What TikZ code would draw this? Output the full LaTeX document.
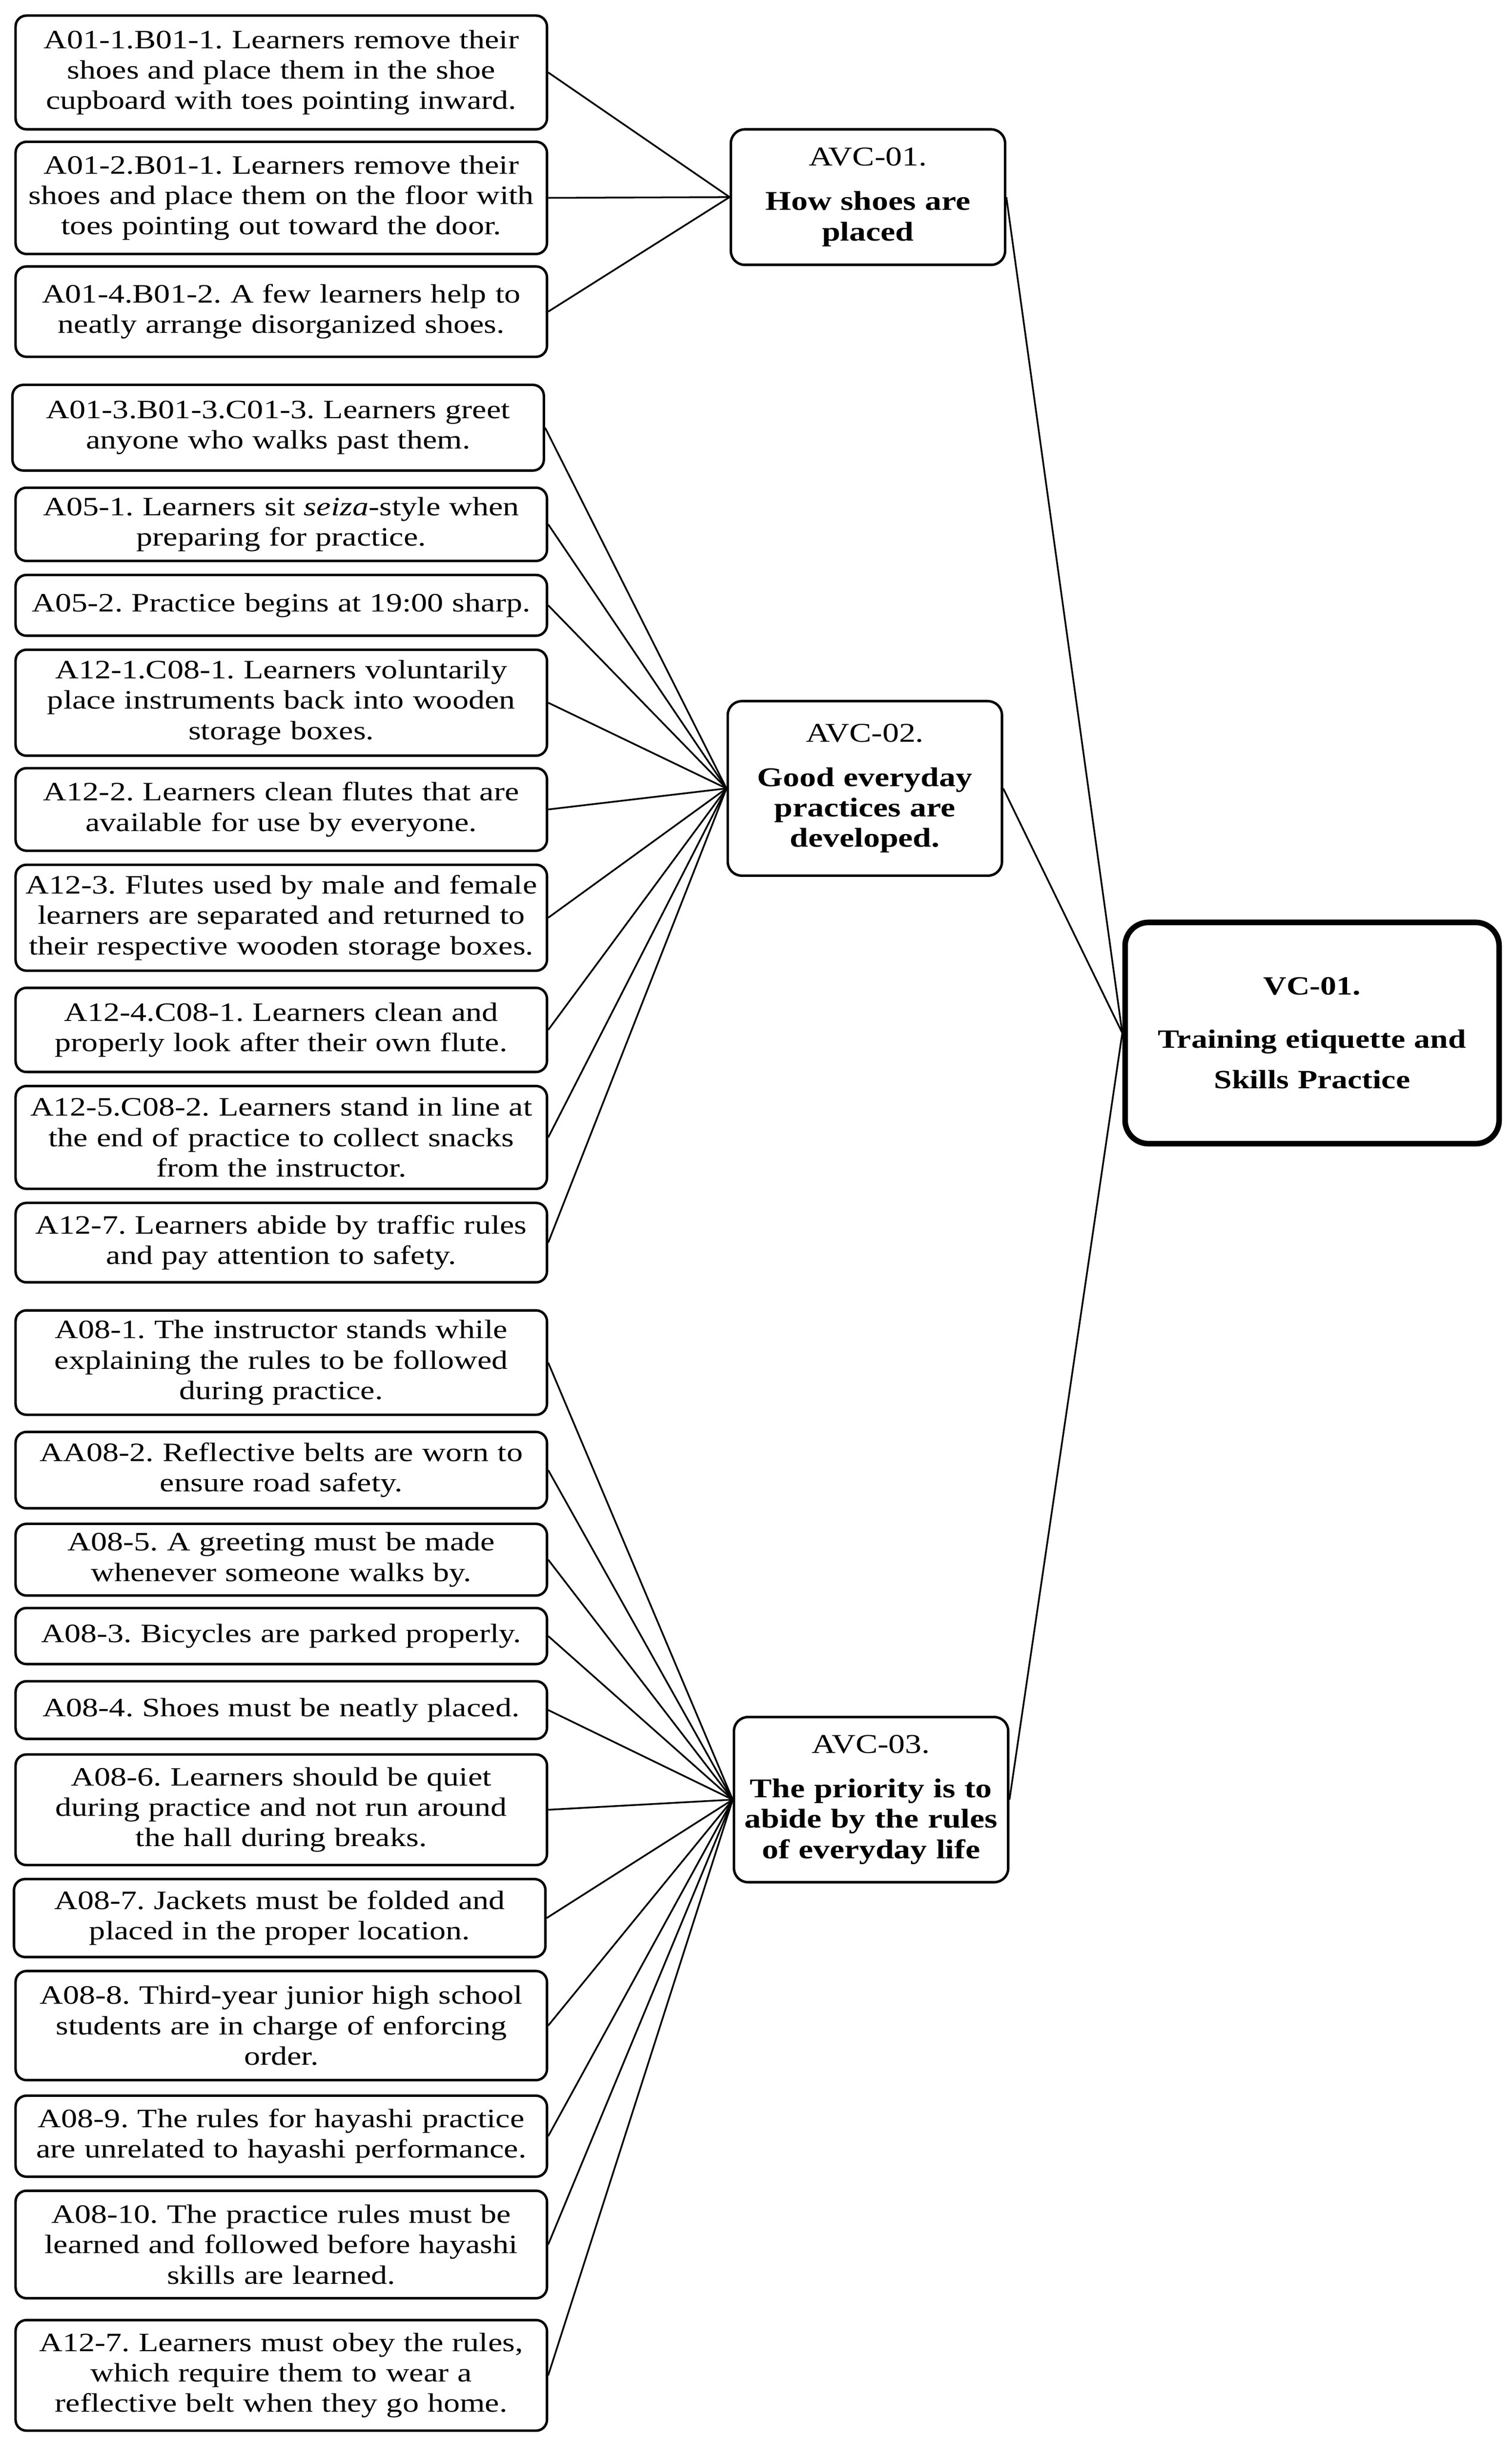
\documentclass[tikz,border=0pt]{standalone}
\usepackage{fontspec}
\setmainfont{Liberation Serif}[FakeStretch=1.22]
\frenchspacing
\begin{document}
\begin{tikzpicture}[x=1pt,y=1pt,
  item/.style={draw,line width=1.6pt,rounded corners=7pt,align=center,text width=341pt,inner xsep=0pt,inner ysep=1pt,font=\fontsize{17}{19.5}\selectfont},
  theme/.style={draw,line width=1.6pt,rounded corners=9pt,align=center,text width=170pt,inner xsep=3pt,inner ysep=1pt,font=\fontsize{17.4}{19.5}\selectfont},
  core/.style={draw,line width=3.6pt,rounded corners=15pt,align=center,text width=230pt,inner xsep=5pt,font=\bfseries\fontsize{16.9}{26}\selectfont},
  link/.style={line width=1.1pt}]
  \useasboundingbox (0,0) rectangle (970,-1566);
  % left column: observed actions
  \node[item,minimum height=73pt] (a1) at (180.5,-46.5) {A01-1.B01-1. Learners remove their\\shoes and place them in the shoe\\cupboard with toes pointing inward.};
  \node[item,minimum height=72pt] (a2) at (180.5,-127) {A01-2.B01-1. Learners remove their\\shoes and place them on the floor with\\toes pointing out toward the door.};
  \node[item,minimum height=58pt] (a3) at (180.5,-200) {A01-4.B01-2. A few learners help to\\neatly arrange disorganized shoes.};
  \node[item,minimum height=55pt] (a4) at (178.5,-274.5) {A01-3.B01-3.C01-3. Learners greet\\anyone who walks past them.};
  \node[item,minimum height=47pt] (a5) at (180.5,-336.5) {A05-1. Learners sit \textit{seiza}-style when\\preparing for practice.};
  \node[item,minimum height=39pt] (a6) at (180.5,-388.5) {A05-2. Practice begins at 19:00 sharp.};
  \node[item,minimum height=68pt] (a7) at (180.5,-451) {A12-1.C08-1. Learners voluntarily\\place instruments back into wooden\\storage boxes.};
  \node[item,minimum height=53pt] (a8) at (180.5,-519.5) {A12-2. Learners clean flutes that are\\available for use by everyone.};
  \node[item,minimum height=68pt] (a9) at (180.5,-589) {A12-3. Flutes used by male and female\\learners are separated and returned to\\their respective wooden storage boxes.};
  \node[item,minimum height=54pt] (a10) at (180.5,-661) {A12-4.C08-1. Learners clean and\\properly look after their own flute.};
  \node[item,minimum height=66pt] (a11) at (180.5,-730) {A12-5.C08-2. Learners stand in line at\\the end of practice to collect snacks\\from the instructor.};
  \node[item,minimum height=51pt] (a12) at (180.5,-797.5) {A12-7. Learners abide by traffic rules\\and pay attention to safety.};
  \node[item,minimum height=67pt] (a13) at (180.5,-874.5) {A08-1. The instructor stands while\\explaining the rules to be followed\\during practice.};
  \node[item,minimum height=49pt] (a14) at (180.5,-943.5) {AA08-2. Reflective belts are worn to\\ensure road safety.};
  \node[item,minimum height=46pt] (a15) at (180.5,-1001) {A08-5. A greeting must be made\\whenever someone walks by.};
  \node[item,minimum height=36pt] (a16) at (180.5,-1050) {A08-3. Bicycles are parked properly.};
  \node[item,minimum height=37pt] (a17) at (180.5,-1097.5) {A08-4. Shoes must be neatly placed.};
  \node[item,minimum height=71pt] (a18) at (180.5,-1161.5) {A08-6. Learners should be quiet\\during practice and not run around\\the hall during breaks.};
  \node[item,minimum height=50pt] (a19) at (179.5,-1231) {A08-7. Jackets must be folded and\\placed in the proper location.};
  \node[item,minimum height=70pt] (a20) at (180.5,-1300) {A08-8. Third-year junior high school\\students are in charge of enforcing\\order.};
  \node[item,minimum height=52pt] (a21) at (180.5,-1371) {A08-9. The rules for hayashi practice\\are unrelated to hayashi performance.};
  \node[item,minimum height=69pt] (a22) at (180.5,-1440.5) {A08-10. The practice rules must be\\learned and followed before hayashi\\skills are learned.};
  \node[item,minimum height=71pt] (a23) at (180.5,-1524.5) {A12-7. Learners must obey the rules,\\which require them to wear a\\reflective belt when they go home.};
  % middle column: themes
  \node[theme,minimum height=87pt] (m1) at (557,-126.5) {AVC-01.\\[9pt]\textbf{How shoes are}\\\textbf{placed}};
  \node[theme,minimum height=112pt] (m2) at (555,-506) {AVC-02.\\[9pt]\textbf{Good everyday}\\\textbf{practices are}\\\textbf{developed.}};
  \node[theme,minimum height=106pt] (m3) at (559,-1155) {AVC-03.\\[9pt]\textbf{The priority is to}\\\textbf{abide by the rules}\\\textbf{of everyday life}};
  % right: core category
  \node[core,minimum height=142pt] (v) at (842,-663) {VC-01.\\[8pt]Training etiquette and\\Skills Practice};
  % connectors
  \foreach \i in {1,...,3} \draw[link] (a\i.east) -- (m1.west);
  \foreach \i in {4,...,12} \draw[link] (a\i.east) -- (m2.west);
  \foreach \i in {13,...,23} \draw[link] (a\i.east) -- (m3.west);
  \foreach \j in {1,2,3} \draw[link] (m\j.east) -- (v.west);
\end{tikzpicture}
\end{document}
